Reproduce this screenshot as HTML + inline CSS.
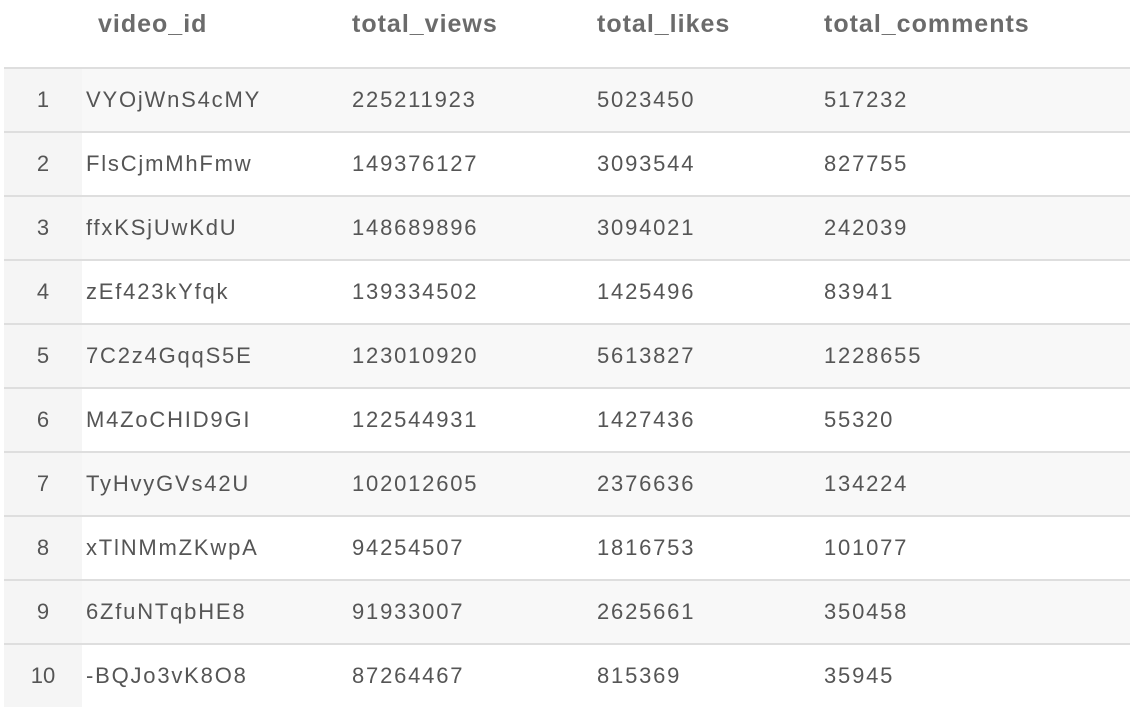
<!DOCTYPE html>
<html><head><meta charset="utf-8"><style>
body{margin:0;width:1130px;height:714px;background:#fff;font-family:"Liberation Sans",sans-serif;overflow:hidden;position:relative}
.h{position:absolute;top:6px;font-size:25px;font-weight:bold;color:#6b6b6b;line-height:36px;letter-spacing:1px}
.row{position:absolute;left:4px;width:1126px;height:62px;border-top:2px solid #dedede}
.row.odd{background:#f8f8f8}
.idx{position:absolute;left:0;top:0;width:78px;height:62px;background:#f5f5f5;text-align:center;line-height:62px;font-size:22px;color:#555}
.c{position:absolute;top:0;line-height:62px;font-size:22px;color:#555;letter-spacing:1.8px}
</style></head><body>
<div class="h" style="left:98px">video_id</div>
<div class="h" style="left:352px">total_views</div>
<div class="h" style="left:597px">total_likes</div>
<div class="h" style="left:824px">total_comments</div>
<div class="row odd" style="top:67px"><div class="idx">1</div><div class="c" style="left:82px">VYOjWnS4cMY</div><div class="c" style="left:348px">225211923</div><div class="c" style="left:593px">5023450</div><div class="c" style="left:820px">517232</div></div>
<div class="row" style="top:131px"><div class="idx">2</div><div class="c" style="left:82px">FlsCjmMhFmw</div><div class="c" style="left:348px">149376127</div><div class="c" style="left:593px">3093544</div><div class="c" style="left:820px">827755</div></div>
<div class="row odd" style="top:195px"><div class="idx">3</div><div class="c" style="left:82px">ffxKSjUwKdU</div><div class="c" style="left:348px">148689896</div><div class="c" style="left:593px">3094021</div><div class="c" style="left:820px">242039</div></div>
<div class="row" style="top:259px"><div class="idx">4</div><div class="c" style="left:82px">zEf423kYfqk</div><div class="c" style="left:348px">139334502</div><div class="c" style="left:593px">1425496</div><div class="c" style="left:820px">83941</div></div>
<div class="row odd" style="top:323px"><div class="idx">5</div><div class="c" style="left:82px">7C2z4GqqS5E</div><div class="c" style="left:348px">123010920</div><div class="c" style="left:593px">5613827</div><div class="c" style="left:820px">1228655</div></div>
<div class="row" style="top:387px"><div class="idx">6</div><div class="c" style="left:82px">M4ZoCHID9GI</div><div class="c" style="left:348px">122544931</div><div class="c" style="left:593px">1427436</div><div class="c" style="left:820px">55320</div></div>
<div class="row odd" style="top:451px"><div class="idx">7</div><div class="c" style="left:82px">TyHvyGVs42U</div><div class="c" style="left:348px">102012605</div><div class="c" style="left:593px">2376636</div><div class="c" style="left:820px">134224</div></div>
<div class="row" style="top:515px"><div class="idx">8</div><div class="c" style="left:82px">xTlNMmZKwpA</div><div class="c" style="left:348px">94254507</div><div class="c" style="left:593px">1816753</div><div class="c" style="left:820px">101077</div></div>
<div class="row odd" style="top:579px"><div class="idx">9</div><div class="c" style="left:82px">6ZfuNTqbHE8</div><div class="c" style="left:348px">91933007</div><div class="c" style="left:593px">2625661</div><div class="c" style="left:820px">350458</div></div>
<div class="row" style="top:643px"><div class="idx">10</div><div class="c" style="left:82px">-BQJo3vK8O8</div><div class="c" style="left:348px">87264467</div><div class="c" style="left:593px">815369</div><div class="c" style="left:820px">35945</div></div>
</body></html>
